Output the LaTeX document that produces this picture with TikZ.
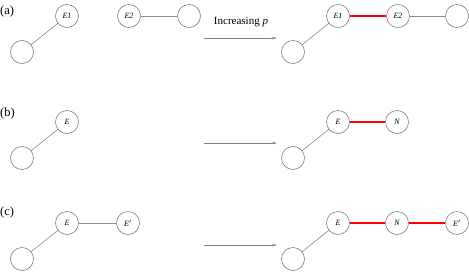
\documentclass[tikz,border=0pt]{standalone}
\usepackage{fontspec}
\setmainfont{Liberation Serif}
\usetikzlibrary{arrows.meta}
\begin{document}
\begin{tikzpicture}[x=1pt,y=-1pt,
  vtx/.style={circle,draw=black!50,line width=0.6pt,minimum size=23pt,inner sep=0pt,font=\fontsize{8}{8}\selectfont\itshape},
  edge/.style={draw=black!45,line width=0.6pt},
  redge/.style={draw=red,line width=2pt},
  growarrow/.style={draw=black!50,line width=0.6pt,-{Stealth[length=5pt,width=2.5pt]}},
  lab/.style={font=\fontsize{12.5}{12.5}\selectfont,inner sep=0pt,anchor=west}]
\useasboundingbox (0,0) rectangle (469,271);
% (a)
\node[lab] (la) at (0,11) {(a)};
\node[vtx] (a1) at (67,16) {E1};
\node[vtx] (a0) at (22,52) {};
\node[vtx] (a2) at (129,16) {E2};
\node[vtx] (a3) at (189,16) {};
\draw[edge] (a0) -- (a1);
\draw[edge] (a2) -- (a3);
\coordinate (as) at (204,38);
\coordinate (ae) at (277,38);
\draw[growarrow] (as) -- (ae);
\node[font=\fontsize{11}{11}\selectfont,inner sep=0pt] (inc) at (241,22) {Increasing \textit{p}};
\node[vtx] (b1) at (338,16) {E1};
\node[vtx] (b0) at (293,52) {};
\node[vtx] (b2) at (398,16) {E2};
\node[vtx] (b3) at (457,16) {};
\draw[edge] (b0) -- (b1);
\draw[redge] (b1) -- (b2);
\draw[edge] (b2) -- (b3);
% (b)
\node[lab] (lb) at (0,113) {(b)};
\node[vtx] (c1) at (67,122) {E};
\node[vtx] (c0) at (22,158) {};
\draw[edge] (c0) -- (c1);
\coordinate (bs) at (204,143);
\coordinate (be) at (277,143);
\draw[growarrow] (bs) -- (be);
\node[vtx] (d1) at (338,122) {E};
\node[vtx] (d0) at (293,158) {};
\node[vtx] (d2) at (397,122) {N};
\draw[edge] (d0) -- (d1);
\draw[redge] (d1) -- (d2);
% (c)
\node[lab] (lc) at (0,212) {(c)};
\node[vtx] (e1) at (67,223) {E};
\node[vtx] (e0) at (22,259) {};
\node[vtx] (e2) at (128,223) {E$'$};
\draw[edge] (e0) -- (e1);
\draw[edge] (e1) -- (e2);
\coordinate (cs) at (204,245);
\coordinate (ce) at (277,245);
\draw[growarrow] (cs) -- (ce);
\node[vtx] (f1) at (338,223) {E};
\node[vtx] (f0) at (293,259) {};
\node[vtx] (f2) at (397,223) {N};
\node[vtx] (f3) at (457,223) {E$'$};
\draw[edge] (f0) -- (f1);
\draw[redge] (f1) -- (f2);
\draw[redge] (f2) -- (f3);
\end{tikzpicture}
\end{document}
